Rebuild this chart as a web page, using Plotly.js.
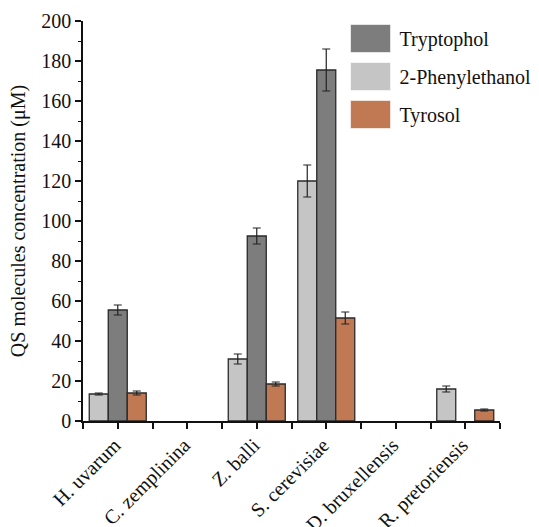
<!DOCTYPE html>
<html>
<head>
<meta charset="utf-8">
<script src="https://cdn.plot.ly/plotly-3.0.1.min.js"></script>
<style>
html,body{margin:0;padding:0;background:#fff;}
#chart{width:539px;height:527px;}
</style>
</head>
<body>
<div id="chart"></div>
<script>
const categories = ["H. uvarum", "C. zemplinina", "Z. balli", "S. cerevisiae", "D. bruxellensis", "R. pretoriensis"];
const phenylethanol = [13.5, null, 31, 120, null, 16];
const phenylethanolErr = [0.5, null, 2.5, 8, null, 1.5];
const tryptophol = [55.5, null, 92.5, 175.5, null, null];
const tryptopholErr = [2.5, null, 4, 10.5, null, null];
const tyrosol = [14, null, 18.5, 51.5, null, 5.5];
const tyrosolErr = [1, null, 1, 3, null, 0.5];
const yTicks = [0, 20, 40, 60, 80, 100, 120, 140, 160, 180, 200];

const xIdx = categories.map((c, i) => i);
const FONT = {family: "Liberation Serif", size: 20, color: "#111"};
const outline = {color: "#2a2a2a", width: 1.3};
function errs(a) { return {type: "data", array: a, visible: true, color: "#222", thickness: 1.2, width: 4}; }

const traces = [
  {type: "bar", name: "2-Phenylethanol", x: xIdx, y: phenylethanol, error_y: errs(phenylethanolErr),
   marker: {color: "#c5c5c5", line: outline}, legendrank: 2, legendgroup: "b"},
  {type: "bar", name: "Tryptophol", x: xIdx, y: tryptophol, error_y: errs(tryptopholErr),
   marker: {color: "#7d7d7d", line: outline}, legendrank: 1, legendgroup: "a"},
  {type: "bar", name: "Tyrosol", x: xIdx, y: tyrosol, error_y: errs(tyrosolErr),
   marker: {color: "#c07953", line: outline}, legendrank: 3, legendgroup: "c"}
];

const layout = {
  width: 539, height: 527,
  margin: {l: 83, r: 39, t: 21, b: 106, autoexpand: false},
  paper_bgcolor: "#fff", plot_bgcolor: "#fff",
  barmode: "group", bargap: 0.18, bargroupgap: 0,
  font: FONT,
  showlegend: true,
  legend: {x: 0.62, y: 1.005, xanchor: "left", yanchor: "top", bgcolor: "rgba(0,0,0,0)",
           font: FONT, itemwidth: 48, traceorder: "grouped", tracegroupgap: 9},
  xaxis: {
    range: [-0.5, 5.5], tickmode: "array", tickvals: xIdx, ticktext: categories,
    tickangle: -45, showline: true, linecolor: "#111", linewidth: 1.5,
    ticks: "outside", ticklen: 6, tickwidth: 1.5, tickcolor: "#111",
    ticklabelstandoff: -3, ticklabelshift: -3,
    showgrid: false, zeroline: false, fixedrange: true,
    minor: {tickmode: "linear", tick0: -0.5, dtick: 1, ticks: "outside", ticklen: 6, tickwidth: 1.5, tickcolor: "#111", showgrid: false},
    tickfont: FONT
  },
  yaxis: {
    range: [0, 200], tickmode: "array", tickvals: yTicks,
    showline: true, linecolor: "#111", linewidth: 1.5,
    ticks: "outside", ticklen: 6, tickwidth: 1.5, tickcolor: "#111",
    showgrid: false, zeroline: false, fixedrange: true,
    minor: {tickmode: "linear", tick0: 0, dtick: 10, ticks: "outside", ticklen: 3, tickwidth: 1.2, tickcolor: "#111", showgrid: false},
    tickfont: FONT,
    title: {text: "QS molecules concentration (μM)", font: FONT, standoff: 10}
  }
};

function fixLegend() {
  document.querySelectorAll("#chart .legend .legendpoints path").forEach(p => {
    p.setAttribute("d", "M20,14H-20V-14H20Z");
    p.style.stroke = "rgba(255,255,255,0.6)";
    p.style.strokeWidth = "1px";
  });
}
const gd = document.getElementById("chart");
Plotly.newPlot(gd, traces, layout, {displayModeBar: false}).then(() => {
  fixLegend();
  gd.on("plotly_afterplot", fixLegend);
});
</script>
</body>
</html>
